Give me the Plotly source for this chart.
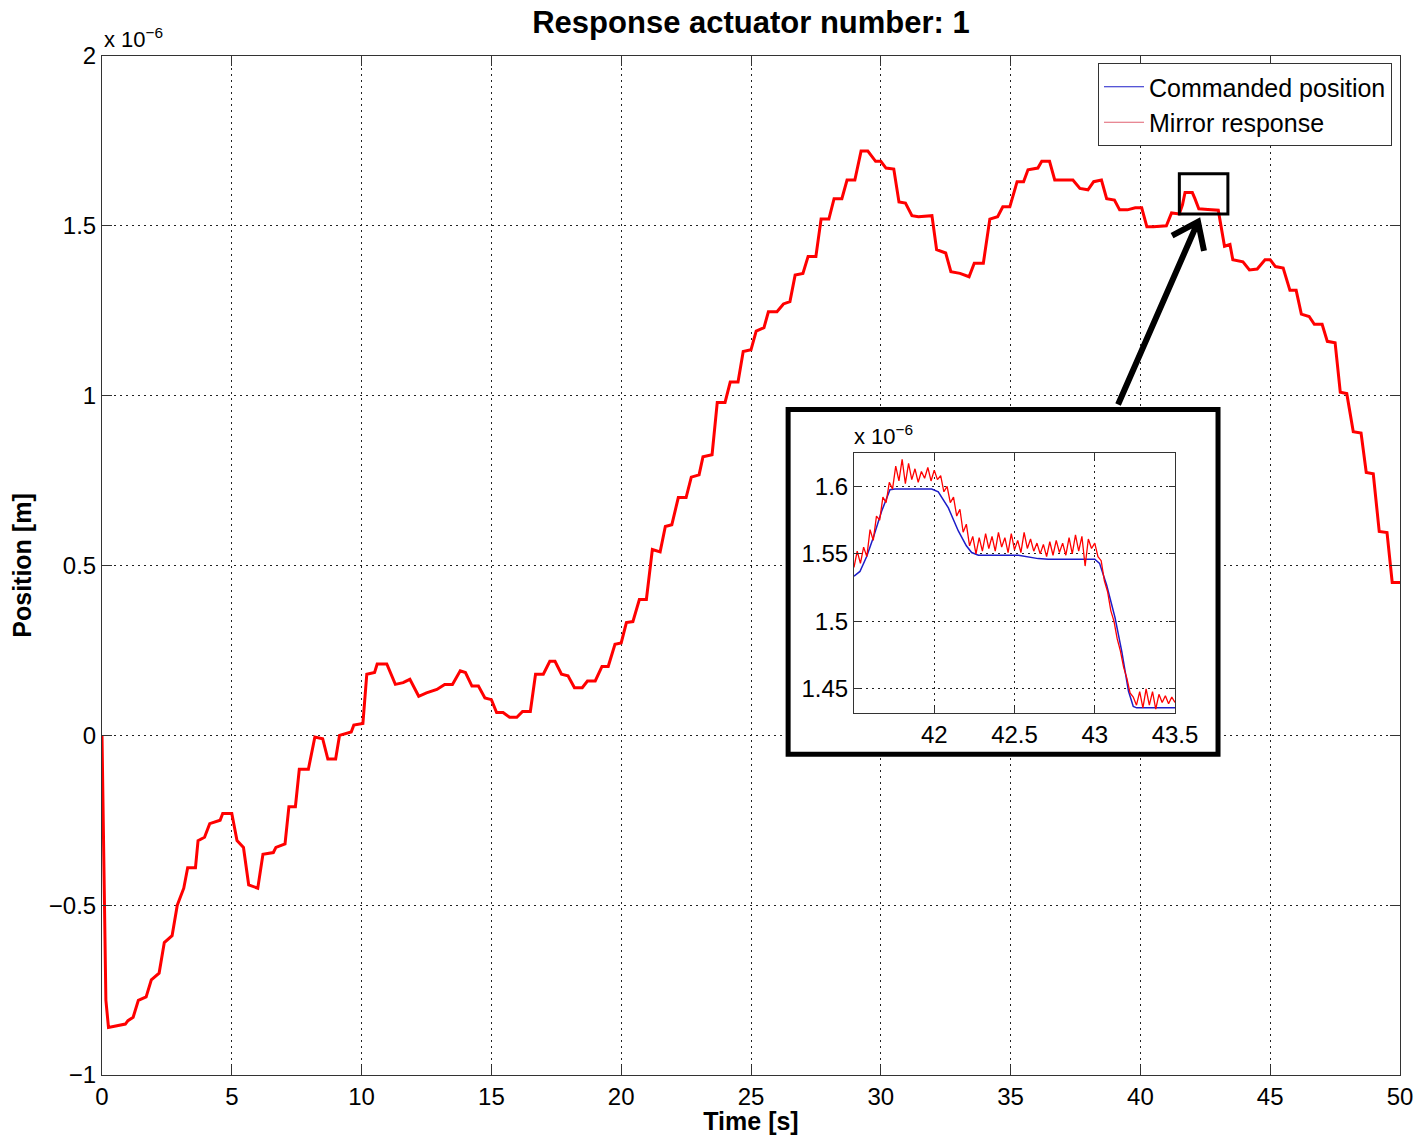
import plotly.graph_objects as go

# ---------------- data (values in units of 1e-6 m) ----------------
cmd_t = [0, 0.05, 0.15, 0.25, 0.9, 1.0, 1.2, 1.4, 1.7, 1.9, 2.2, 2.4, 2.7, 2.9, 3.15, 3.3, 3.6, 3.7,
         3.95, 4.15, 4.55, 4.65, 5.0, 5.2, 5.45, 5.65, 6.0, 6.2, 6.6, 6.7, 7.05, 7.2, 7.45, 7.6, 7.95,
         8.2, 8.5, 8.7, 9.0, 9.15, 9.6, 9.7, 10.05, 10.2, 10.5, 10.6, 10.97, 11.3, 11.6, 11.86, 12.2,
         12.5, 12.9, 13.2, 13.5, 13.8, 14.0, 14.25, 14.5, 14.75, 15.0, 15.2, 15.45, 15.7, 15.98, 16.2,
         16.5, 16.7, 17.0, 17.25, 17.45, 17.7, 17.95, 18.2, 18.5, 18.7, 19.0, 19.26, 19.5, 19.76, 20.0,
         20.2, 20.45, 20.7, 20.97, 21.2, 21.5, 21.7, 21.95, 22.2, 22.5, 22.7, 23.0, 23.15, 23.5, 23.7,
         24.0, 24.2, 24.5, 24.7, 25.0, 25.2, 25.5, 25.67, 26.0, 26.25, 26.5, 26.7, 27.0, 27.2, 27.5,
         27.7, 28.0, 28.2, 28.5, 28.7, 29.0, 29.24, 29.5, 29.8, 30.0, 30.2, 30.5, 30.7, 30.95, 31.2,
         31.45, 31.97, 32.15, 32.5, 32.7, 33.05, 33.4, 33.6, 33.95, 34.2, 34.5, 34.7, 34.97, 35.25,
         35.5, 35.67, 36.05, 36.2, 36.5, 36.7, 37.0, 37.4, 37.67, 37.98, 38.2, 38.5, 38.7, 39.0, 39.2,
         39.5, 39.8, 40.05, 40.25, 40.5, 41.0, 41.2, 41.5, 41.62, 41.72, 42.0, 42.1, 42.25, 42.6, 43.0,
         43.24, 43.45, 43.56, 43.95, 44.2, 44.5, 44.8, 45.0, 45.2, 45.5, 45.76, 46.0, 46.2, 46.5, 46.7,
         47.0, 47.2, 47.5, 47.7, 47.95, 48.2, 48.5, 48.7, 48.97, 49.2, 49.5, 49.7, 50.0]
cmd_v = [0.0, -0.30, -0.78, -0.86, -0.85, -0.84, -0.83, -0.78, -0.77, -0.72, -0.70, -0.61, -0.59, -0.50,
         -0.45, -0.39, -0.39, -0.31, -0.30, -0.26, -0.25, -0.23, -0.23, -0.31, -0.33, -0.44, -0.45,
         -0.35, -0.345, -0.33, -0.32, -0.21, -0.21, -0.10, -0.10, -0.005, -0.01, -0.07, -0.07, 0.0,
         0.01, 0.03, 0.035, 0.18, 0.185, 0.21, 0.21, 0.15, 0.155, 0.165, 0.115, 0.125, 0.135, 0.15,
         0.15, 0.19, 0.185, 0.145, 0.145, 0.11, 0.105, 0.067, 0.067, 0.053, 0.053, 0.07, 0.07, 0.18,
         0.18, 0.218, 0.218, 0.18, 0.175, 0.14, 0.14, 0.16, 0.16, 0.203, 0.203, 0.268, 0.272, 0.332,
         0.335, 0.40, 0.40, 0.547, 0.54, 0.615, 0.62, 0.70, 0.70, 0.76, 0.767, 0.82, 0.826, 0.98, 0.98,
         1.04, 1.04, 1.13, 1.135, 1.19, 1.20, 1.247, 1.247, 1.27, 1.277, 1.355, 1.36, 1.41, 1.41, 1.52,
         1.52, 1.58, 1.58, 1.635, 1.635, 1.72, 1.72, 1.69, 1.69, 1.67, 1.667, 1.57, 1.567, 1.53,
         1.527, 1.53, 1.43, 1.42, 1.365, 1.36, 1.35, 1.39, 1.39, 1.52, 1.527, 1.556, 1.556, 1.63, 1.63,
         1.665, 1.67, 1.69, 1.69, 1.635, 1.635, 1.635, 1.61, 1.606, 1.63, 1.635, 1.58, 1.576, 1.547,
         1.547, 1.553, 1.553, 1.497, 1.497, 1.50, 1.538, 1.535, 1.562, 1.598, 1.598, 1.58, 1.55, 1.548,
         1.546, 1.44, 1.445, 1.40, 1.394, 1.37, 1.373, 1.40, 1.40, 1.38, 1.376, 1.31, 1.31, 1.24,
         1.233, 1.21, 1.21, 1.16, 1.156, 1.01, 1.006, 0.894, 0.89, 0.774, 0.77, 0.60, 0.597, 0.45, 0.45]
# at full scale the measured response lies on top of the command
resp_v = cmd_v

# zoomed inset (41.5 s - 43.5 s)
inset_cmd_t = [41.5, 41.537, 41.579, 41.62, 41.672, 41.724, 41.755, 41.984, 42.025, 42.088, 42.15,
               42.2, 42.233, 42.275, 42.524, 42.648, 42.71, 43.0, 43.03, 43.074, 43.126, 43.168,
               43.21, 43.24, 43.261, 43.5]
inset_cmd_v = [1.5335, 1.537, 1.548, 1.562, 1.5815, 1.5975, 1.598, 1.598, 1.596, 1.584, 1.567,
               1.556, 1.551, 1.549, 1.549, 1.5465, 1.546, 1.546, 1.543, 1.527, 1.503, 1.478,
               1.4485, 1.437, 1.436, 1.436]
inset_resp_t0 = 41.5
inset_resp_dt = 0.02
inset_resp_v = [1.540, 1.552, 1.543, 1.555, 1.548, 1.568, 1.560, 1.578, 1.575, 1.592, 1.588, 1.603,
                1.598, 1.615, 1.604, 1.620, 1.602, 1.617, 1.605, 1.613, 1.603, 1.611, 1.606, 1.614,
                1.604, 1.612, 1.605, 1.608, 1.596, 1.600, 1.588, 1.592, 1.578, 1.583, 1.566, 1.572,
                1.556, 1.563, 1.550, 1.562, 1.552, 1.565, 1.554, 1.563, 1.552, 1.566, 1.555, 1.562,
                1.551, 1.565, 1.553, 1.560, 1.551, 1.566, 1.554, 1.561, 1.552, 1.558, 1.550, 1.557,
                1.548, 1.559, 1.549, 1.560, 1.551, 1.558, 1.549, 1.562, 1.550, 1.564, 1.552, 1.563,
                1.541, 1.561, 1.554, 1.558, 1.548, 1.545, 1.530, 1.522, 1.508, 1.500, 1.487, 1.478,
                1.466, 1.458, 1.447, 1.444, 1.438, 1.448, 1.436, 1.450, 1.438, 1.448, 1.435, 1.446,
                1.440, 1.445, 1.439, 1.444, 1.440]
inset_resp_t = [inset_resp_t0 + inset_resp_dt * i for i in range(len(inset_resp_v))]

x_ticks = [0, 5, 10, 15, 20, 25, 30, 35, 40, 45, 50]
y_ticks = [-1, -0.5, 0, 0.5, 1, 1.5, 2]
inset_x_ticks = [42, 42.5, 43, 43.5]
inset_y_ticks = [1.45, 1.5, 1.55, 1.6]

# ---------------- styling ----------------
FONT = "Liberation Sans"
BLUE = "#1c1cc8"
RED = "#ff0000"
AX = "#333333"

fig = go.Figure()
fig.add_trace(go.Scatter(x=cmd_t, y=cmd_v, mode="lines", line=dict(color=BLUE, width=1.2),
                         showlegend=False, hoverinfo="skip"))
fig.add_trace(go.Scatter(x=cmd_t, y=resp_v, mode="lines", line=dict(color=RED, width=3),
                         showlegend=False, hoverinfo="skip"))
# legend entries
fig.add_trace(go.Scatter(x=[None], y=[None], mode="lines", line=dict(color=BLUE, width=1.2),
                         name="Commanded position"))
fig.add_trace(go.Scatter(x=[None], y=[None], mode="lines", line=dict(color="#e06070", width=1.2),
                         name="Mirror response"))
# inset
fig.add_trace(go.Scatter(x=inset_cmd_t, y=inset_cmd_v, mode="lines", xaxis="x2", yaxis="y2",
                         line=dict(color=BLUE, width=1.5), showlegend=False, hoverinfo="skip"))
fig.add_trace(go.Scatter(x=inset_resp_t, y=inset_resp_v, mode="lines", xaxis="x2", yaxis="y2",
                         line=dict(color=RED, width=1.3), showlegend=False, hoverinfo="skip"))

common = dict(showline=True, linecolor=AX, linewidth=1, mirror="ticks", ticks="inside",
              tickcolor=AX, showgrid=True, gridcolor="#222222", griddash="2px,4px", gridwidth=1,
              zeroline=False, automargin=False,
              tickfont=dict(family=FONT, size=24, color="black"))

W, H = 1427, 1135
L, R, T, B = 102, 27, 56, 60
pw, ph = W - L - R, H - T - B


def px_x(px):
    return (px - L) / pw


def px_y(py):
    return (H - B - py) / ph


fig.update_layout(
    width=W, height=H,
    margin=dict(l=L, r=R, t=T, b=B, autoexpand=False),
    paper_bgcolor="white", plot_bgcolor="white",
    font=dict(family=FONT, color="black"),
    title=dict(text="<b>Response actuator number: 1</b>", x=0.5, xref="paper", xanchor="center",
               y=1 - 22 / H, yref="container", yanchor="middle",
               font=dict(family=FONT, size=31, color="black")),
    xaxis=dict(common, range=[0, 50], tickvals=x_ticks, ticklen=10,
               title=dict(text="<b>Time [s]</b>", font=dict(family=FONT, size=25), standoff=2)),
    yaxis=dict(common, range=[-1, 2], tickvals=y_ticks, ticklen=10,
               title=dict(text="<b>Position [m]</b>", font=dict(family=FONT, size=25), standoff=10)),
    xaxis2=dict(common, domain=[px_x(854), px_x(1175)], anchor="y2", range=[41.5, 43.5],
                tickvals=inset_x_ticks, ticklen=6),
    yaxis2=dict(common, domain=[px_y(713), px_y(453)], anchor="x2", range=[1.4322, 1.6247],
                tickvals=inset_y_ticks, ticklen=6),
    legend=dict(x=px_x(1392), y=px_y(63), xanchor="right", yanchor="top", bgcolor="white",
                bordercolor=AX, borderwidth=1, font=dict(family=FONT, size=25, color="black"),
                tracegroupgap=0, itemwidth=40),
    showlegend=True,
)

# white framed box holding the inset (on main axes, drawn above gridlines)
fig.add_shape(type="rect", xref="x", yref="y", x0=26.43, x1=42.99, y0=-0.056, y1=0.959,
              fillcolor="white", line=dict(color="black", width=5), layer="between")
# zoom rectangle on the curve
fig.add_shape(type="rect", xref="x", yref="y", x0=41.5, x1=43.37, y0=1.535, y1=1.653,
              line=dict(color="black", width=3), layer="above")
# arrow from inset box to zoom rectangle
fig.add_shape(type="path", xref="x", yref="y",
              path="M 39.14,0.974 L 42.22,1.512 M 41.22,1.471 L 42.22,1.512 L 42.45,1.426",
              line=dict(color="black", width=6), layer="above")

# exponent labels
fig.add_annotation(text="x 10<sup>−6</sup>", xref="paper", yref="paper", x=0, y=1,
                   xanchor="left", yanchor="bottom", showarrow=False, xshift=0, yshift=2,
                   font=dict(family=FONT, size=22, color="black"))
fig.add_annotation(text="x 10<sup>−6</sup>", xref="x2 domain", yref="y2 domain", x=0, y=1,
                   xanchor="left", yanchor="bottom", showarrow=False, xshift=-2, yshift=2,
                   font=dict(family=FONT, size=22, color="black"))

fig.write_html("out.html")
